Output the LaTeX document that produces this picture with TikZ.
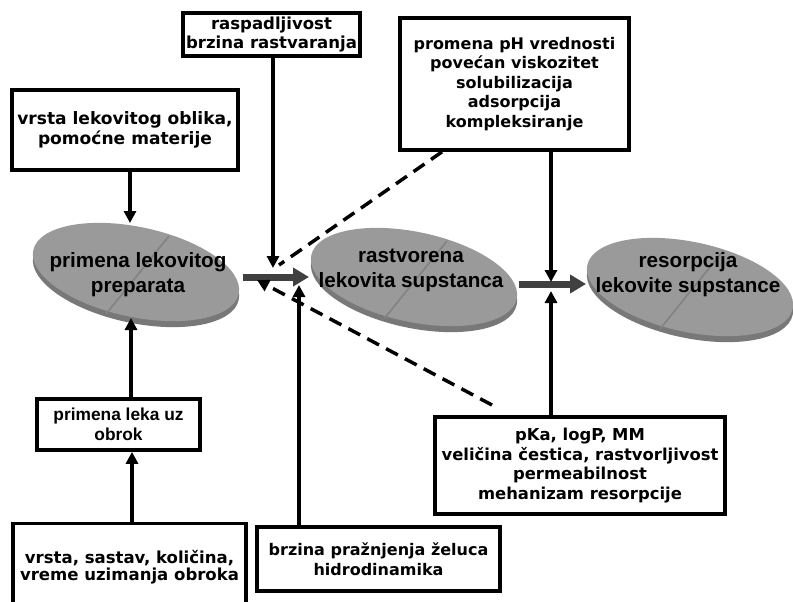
\documentclass[tikz,border=0pt]{standalone}
\usepackage{fontspec}
\setmainfont{Liberation Sans}
\newfontfamily\vfont{DejaVu Sans}
\usetikzlibrary{arrows.meta}
\definecolor{topgray}{HTML}{9A9A9A}
\definecolor{sidegray}{HTML}{787878}
\definecolor{scoregray}{HTML}{828282}
\definecolor{thickgray}{HTML}{404040}
\begin{document}
\begin{tikzpicture}[x=0.75pt,y=-0.75pt,
  box/.style={draw, line width=2.8pt, fill=white, inner sep=0pt, align=center,
    font=\vfont\bfseries\fontsize{12}{14.6}\selectfont},
  abox/.style={draw, line width=2.8pt, fill=white, inner sep=0pt, align=center,
    font=\bfseries\fontsize{13}{15}\selectfont},
  etext/.style={align=center, inner sep=0pt, font=\bfseries\fontsize{15.5}{18.75}\selectfont},
  arr/.style={line width=2.6pt, -{Triangle[length=9pt,width=9pt]}},
  thickarr/.style={line width=5.25pt, draw=thickgray, -{Triangle[length=12pt,width=13.5pt]}},
  dline/.style={line width=2.6pt, dash pattern=on 10pt off 6pt},
  tablet/.pic={
    \fill[sidegray, shift={(0,6)}, rotate=-12] (0,0) ellipse (105 and 45);
    \fill[topgray, rotate=-12] (0,0) ellipse (105 and 45);
    \draw[scoregray, line width=1.2pt] (33,-36) -- (-30,42);
  }]
\useasboundingbox (0,0) rectangle (793,601);
\fill[white] (0,0) rectangle (793,601);

% tablets
\pic at (136,272) {tablet};
\pic at (414,277) {tablet};
\pic at (690,287) {tablet};
\node[etext] (E1) at (138,275) {primena lekovitog\\preparata};
\node[etext] (E2) at (411,270) {rastvorena\\lekovita supstanca};
\node[etext] (E3) at (688,275) {resorpcija\\lekovite supstance};

% boxes
\node[box, font=\vfont\bfseries\fontsize{12.8}{14.6}\selectfont, minimum width=169.5pt, minimum height=60pt] (A) at (125,130) {vrsta lekovitog oblika,\\pomoćne materije};
\node[box, font=\vfont\bfseries\fontsize{12.4}{14.6}\selectfont, minimum width=132.75pt, minimum height=32.25pt] (B) at (271.5,34.5) {raspadljivost\\brzina rastvaranja};
\node[box, minimum width=171.75pt, minimum height=99pt] (C) at (514.5,84) {promena pH vrednosti\\povećan viskozitet\\solubilizacija\\adsorpcija\\kompleksiranje};
\node[box, font=\vfont\bfseries\fontsize{12.3}{14.6}\selectfont, minimum width=217.5pt, minimum height=72.75pt] (D) at (580,465.5) {pKa, logP, MM\\veličina čestica, rastvorljivost\\permeabilnost\\mehanizam resorpcije};
\node[box, font=\vfont\bfseries\fontsize{12.4}{13}\selectfont, minimum width=174.75pt, minimum height=65.25pt] (E) at (129.5,567) {vrsta, sastav, količina,\\vreme uzimanja obroka};
\node[box, minimum width=182pt, minimum height=48pt] (F) at (378.5,559) {brzina pražnjenja želuca\\hidrodinamika};
\node[abox, minimum width=122.25pt, minimum height=38.25pt] (G) at (118.5,424.5) {primena leka uz\\obrok};

% coordinates
\coordinate (t1) at (130,223);
\coordinate (t2) at (131,318);
\coordinate (t3) at (132,0);
\coordinate (jb) at (273,268);
\coordinate (jf) at (299,285);
\coordinate (s1) at (243,277);
\coordinate (s2) at (309,277);
\coordinate (s3) at (519,284);
\coordinate (s4) at (586,284);
\coordinate (cdx) at (442,0);
\coordinate (jd) at (279,265);
\coordinate (ds) at (492,405);
\coordinate (dt) at (257,280);
\coordinate (jc) at (551,282);
\coordinate (jdd) at (551,291);

% connectors
\draw[arr] (A.south -| t1) -- (t1);
\draw[arr] (G.north -| t2) -- (t2);
\draw[arr] (E.north -| t3) -- (G.south -| t3);
\draw[arr] (B.south -| jb) -- (jb);
\draw[arr] (F.north -| jf) -- (jf);
\draw[thickarr] (s1) -- (s2);
\draw[thickarr] (s3) -- (s4);
\draw[dline] (C.south -| cdx) -- (jd);
\draw[dline, -{Triangle[length=9pt,width=9pt]}] (ds) -- (dt);
\draw[arr] (C.south -| jc) -- (jc);
\draw[arr] (D.north -| jdd) -- (jdd);
\end{tikzpicture}
\end{document}
